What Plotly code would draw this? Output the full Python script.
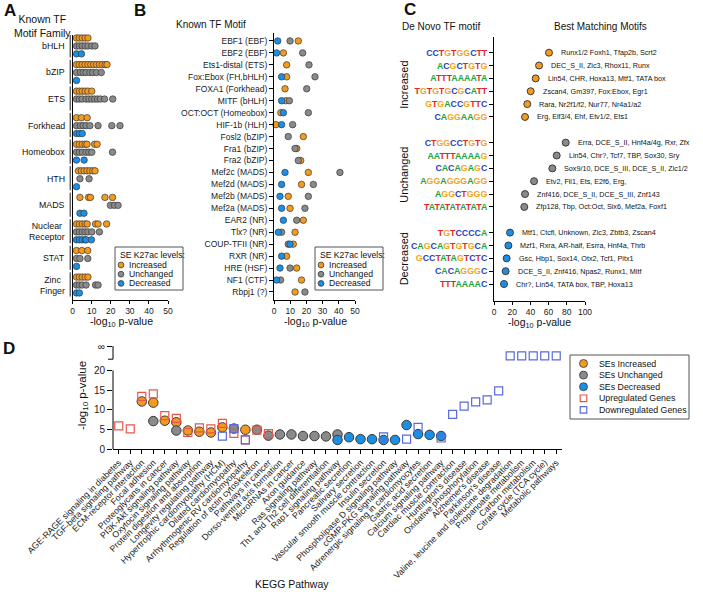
import plotly.graph_objects as go

W, H = 703, 592


def fx(p):
    return p / W


def fy(p):
    return 1 - p / H


ORANGE = "#F39A1F"
GRAY = "#8A8A8A"
BLUE = "#1B8FE6"
UP_RED = "#E8574A"
DOWN_BLUE = "#5A6BD8"
EDGE = "#3A3A3A"
FONT = "Liberation Sans, Arial, Helvetica, sans-serif"
LOGO_FONT = "Liberation Sans, Arial, sans-serif"

# ---------------- Panel A : known TF motif families ----------------
A_families = ["bHLH", "bZIP", "ETS", "Forkhead", "Homeobox", "HTH", "MADS",
              "Nuclear<br>Receptor", "STAT", "Zinc<br>Finger"]
A_increased = [
    [2, 3.5, 5, 6.5, 8],
    [2, 3.5, 5, 6.5, 8, 9.5, 11, 12.5, 14, 15.5, 17, 18],
    [2, 3.5, 5, 6.5, 8, 10],
    [2, 4.6, 7.6],
    [2, 3.5, 5, 6.5, 7.5, 11.5, 12.8],
    [3, 4.5, 6, 7.5, 9, 10.5, 11.7],
    [3.8, 8.3, 9.3, 16.9, 20.9],
    [2, 3.5, 5, 6.5, 7.6, 12, 13.3, 17.8],
    [2, 4.8, 7.9],
    [2, 3.5, 5, 6.5, 8],
]
A_unchanged = [
    [2, 3.5, 5, 6.5, 8, 10, 11.7],
    [2, 4, 5.5, 7, 9, 10.5, 12.5, 15],
    [2, 3.5, 5, 7, 8.5, 10, 11.5, 13, 14.5, 16.7, 21],
    [2, 4, 5.5, 7, 9, 13.3, 20.5, 24.8],
    [2, 3.5, 5, 7, 8.5, 10, 20.9],
    [3.8, 8.6],
    [19.8, 21.9, 23.8],
    [2, 3.5, 5, 6.5, 8, 10, 14],
    [2, 3.8, 7.9],
    [2, 3.5, 5, 7, 12, 13.3],
]
A_decreased = [
    [2, 4.6],
    [2],
    [],
    [2, 3.5, 5],
    [2, 6],
    [2],
    [3.8, 5.9],
    [2, 3.5, 5, 6.5, 7, 9.8],
    [2],
    [2, 3.5],
]

# ---------------- Panel B : known TF motifs ----------------
B_motifs = ["EBF1 (EBF)", "EBF2 (EBF)", "Ets1-distal (ETS)", "Fox:Ebox (FH,bHLH)",
            "FOXA1 (Forkhead)", "MITF (bHLH)", "OCT:OCT (Homeobox)", "HIF-1b (HLH)",
            "Fosl2 (bZIP)", "Fra1 (bZIP)", "Fra2 (bZIP)", "Mef2c (MADS)", "Mef2d (MADS)",
            "Mef2b (MADS)", "Mef2a (MADS)", "EAR2 (NR)", "Tlx? (NR)", "COUP-TFII (NR)",
            "RXR (NR)", "HRE (HSF)", "NF1 (CTF)", "Rbpj1 (?)"]
B_increased = [15, 5.8, 7.8, 7.8, 6.8, 7.4, 4.2, 1.2, 18.1, 14, 16.5, 21.2, 17, 8.8,
               9.9, 18.1, 13, 11.9, 7.8, 14, 17, 13]
B_unchanged = [9.9, 17.7, 21.6, 25.3, 20.2, 9.5, 21.2, 11.5, 8.8, 13, 15, 40.7, 24.3,
               21.2, 19.1, 14, 4.7, 8.8, None, 9.9, 4.1, 19.1]
B_decreased = [2.3, 1.6, None, 4.7, None, 4.7, 5.8, 4.7, None, None, None, 6.8, 4.7,
               3.7, 4.7, 5.8, 2.7, 9.9, 4.7, 3.7, 1.6, None]

# ---------------- Panel C : de novo motifs ----------------
C_groups = ["Increased", "Unchanged", "Decreased"]
C_group_of = [0, 0, 0, 0, 0, 0, 1, 1, 1, 1, 1, 1, 2, 2, 2, 2, 2]
C_motifs = ["CCTGTGGCTT", "ACGCTGTG", "ATTTAAAATA", "TGTGTGCGCATT", "GTGACCGTTC",
            "CAGGAAGG", "CTGGCCTGTG", "AATTTAAAAG", "CACAGAGC", "AGGAGGGAGG",
            "AGGCTGGG", "TATATATATATA", "TGTCCCCA", "CAGCAGTGTGCA", "GCCTATAGTCTC",
            "CACAGGGC", "TTTAAAAC"]
C_values = [60.4, 49.5, 45.8, 40.3, 36.6, 34.1, 78.8, 68.9, 64.1, 44.0, 34.1, 33.3,
            17.6, 15.8, 13.9, 12.8, 11.0]
C_matches = [
    "Runx1/2 Foxh1, Tfap2b, Scrt2",
    "DEC_S_II, Zic3, Rhox11, Runx",
    "Lin54, CHR, Hoxa13, Mtf1, TATA box",
    "Zscan4, Gm397, Fox:Ebox, Egr1",
    "Rara, Nr2f1/f2, Nur77, Nr4a1/a2",
    "Erg, Elf3/4, Ehf, Etv1/2, Ets1",
    "Erra, DCE_S_II, Hnf4a/4g, Rxr, Zfx",
    "Lin54, Chr?, Tcf7, TBP, Sox30, Sry",
    "Sox9/10, DCE_S_III, DCE_S_II, Zic1/2",
    "Etv2, Fli1, Ets, E2f6, Erg,",
    "Znf416, DCE_S_II, DCE_S_III, Znf143",
    "Zfp128, Tbp, Oct:Oct, Six6, Mef2a, Foxf1",
    "Mtf1, Ctcfl, Unknown, Zic3, Zbtb3, Zscan4",
    "Mzf1, Rxra, AR-half, Esrra, Hnf4a, Thrb",
    "Gsc, Hbp1, Sox14, Otx2, Tcf1, Pitx1",
    "DCE_S_II, Znf416, Npas2, Runx1, Mitf",
    "Chr?, Lin54, TATA box, TBP, Hoxa13",
]

# ---------------- Panel D : KEGG pathways ----------------
INF = float("inf")
D_pathways = [
    "AGE-RAGE signaling in diabetes", "TGF-beta signaling pathway",
    "ECM-receptor interaction", "Focal adhesion", "Proteoglycans in cancer",
    "PI3K-Akt signaling pathway", "Oxytocin signaling pathway",
    "Protein digestion and absorption", "Longevity regulating pathway",
    "Hypertrophic cardiomyopathy (HCM)", "Dilated cardiomyopathy",
    "Arrhythmogenic RV cardiomyopathy", "Regulation of actin cytoskeleton",
    "Pathways in cancer", "Dorso-ventral axis formation", "MicroRNAs in cancer",
    "Axon guidance", "Ras signaling pathway", "Th1 and Th2 cell differentiation",
    "Rap1 signaling pathway", "Pancreatic secretion", "Salivary secretion",
    "Vascular smooth muscle contraction", "Insulin secretion",
    "Phospholipase D signaling pathway", "cGMP-PKG signaling pathway",
    "Adrenergic signaling in cardiomyocytes", "Gastric acid secretion",
    "Calcium signaling pathway", "Cardiac muscle contraction", "Huntington's disease",
    "Oxidative phosphorylation", "Alzheimer's disease", "Parkinson's disease",
    "Valine, leucine and isoleucine degradation", "Propanoate metabolism",
    "Carbon metabolism", "Citrate cycle (TCA cycle)", "Metabolic pathways",
]
N = None
D_se_increased = [N, N, 12.1, 11.8, 7.2, 6.8, 4.7, 4.4, 4.2, 5.5, N, 4.9, N, N, N, N, N,
                  N, N, N, N, N, N, N, N, N, N, N, N, N, N, N, N, N, N, N, N, N, N]
D_se_unchanged = [N, N, N, 7.1, N, 4.7, N, N, N, N, 5.2, N, 4.9, 3.4, 3.7, 3.7, 3.3,
                  3.3, 3.2, 3.7, N, N, N, N, N, N, N, N, N, N, N, N, N, N, N, N, N, N, N]
D_se_decreased = [N, N, N, N, N, N, N, N, N, N, N, N, N, N, N, N, N, N, N, 2.3, 3.0,
                  2.5, 2.5, 2.3, 2.3, 6.1, 3.8, 3.6, 3.3, N, N, N, N, N, N, N, N, N, N]
D_up_genes = [5.9, 5.1, 13.4, 14.0, 8.5, 7.8, 4.2, 5.4, 5.1, 6.5, 4.0, 2.3, 4.8, 3.9,
              N, N, N, N, N, N, N, N, N, N, N, N, N, N, N, N, N, N, N, N, N, N, N, N, N]
D_down_genes = [N, N, N, N, N, N, N, N, N, 3.3, 5.2, 2.3, N, N, N, N, N, N, N, N, N, N,
                N, 3.1, N, 2.5, 5.5, N, 2.8, 8.8, 10.9, 12.0, 12.5, 14.8, INF, INF, INF,
                INF, INF]
D_yticks = [0, 5, 10, 15, 20]
INF_POS = 23.7        # where "infinite" values are drawn on the broken axis
INF_TICK = 26.0
BREAK_LOW, BREAK_HIGH = 22.85, 26.2

LOGO_COLORS = {"A": "#22A33A", "C": "#2A3FC1", "G": "#F2A31B", "T": "#E0262B"}


def logo(seq):
    return "".join('<span style="color:%s">%s</span>' % (LOGO_COLORS[c], c) for c in seq)


fig = go.Figure()


def dots(x, y, xa, ya, color, size=6.5, lw=0.7, symbol="circle"):
    fig.add_trace(go.Scatter(
        x=x, y=y, mode="markers", xaxis=xa, yaxis=ya, cliponaxis=False,
        showlegend=False, hoverinfo="skip",
        marker=dict(size=size, color=color, symbol=symbol,
                    line=dict(color=EDGE, width=lw))))


# ---- A
GROUP_STEP = 3.35
for row, (vals, color) in enumerate([(A_increased, ORANGE), (A_unchanged, GRAY),
                                      (A_decreased, BLUE)]):
    xs, ys = [], []
    for g, lst in enumerate(vals):
        for v in lst:
            xs.append(v)
            ys.append(g * GROUP_STEP + row)
    dots(xs, ys, "x", "y", color)

# ---- B
for vals, color in [(B_increased, ORANGE), (B_unchanged, GRAY), (B_decreased, BLUE)]:
    xs = [v for v in vals if v is not None]
    ys = [i for i, v in enumerate(vals) if v is not None]
    dots(xs, ys, "x2", "y2", color)

# ---- C
C_offsets = [0, 7, 14]
C_pos = []
counts = [0, 0, 0]
for g in C_group_of:
    C_pos.append(C_offsets[g] + counts[g])
    counts[g] += 1
for g, color in enumerate([ORANGE, GRAY, BLUE]):
    xs = [v for v, gg in zip(C_values, C_group_of) if gg == g]
    ys = [p for p, gg in zip(C_pos, C_group_of) if gg == g]
    dots(xs, ys, "x3", "y3", color, size=7, lw=1.0)


# ---- D
def dval(v):
    return INF_POS if v == INF else v


for vals, color in [(D_se_increased, ORANGE), (D_se_unchanged, GRAY), (D_se_decreased, BLUE)]:
    xs = [i for i, v in enumerate(vals) if v is not None]
    ys = [v for v in vals if v is not None]
    dots(xs, ys, "x4", "y4", color, size=9.5, lw=1.0)
for vals, color in [(D_up_genes, UP_RED), (D_down_genes, DOWN_BLUE)]:
    xs = [i for i, v in enumerate(vals) if v is not None]
    ys = [dval(v) for v in vals if v is not None]
    fig.add_trace(go.Scatter(
        x=xs, y=ys, mode="markers", xaxis="x4", yaxis="y4", cliponaxis=False,
        showlegend=False, hoverinfo="skip",
        marker=dict(size=8, symbol="square-open", color=color, line=dict(color=color, width=1.2))))

axis_common = dict(showgrid=False, zeroline=False, showline=True, linecolor="black",
                   linewidth=1, ticks="outside", ticklen=3, tickwidth=1, tickcolor="black",
                   automargin=False, tickfont=dict(size=8.5, color="#222", family=FONT))

layout = dict(
    width=W, height=H, margin=dict(l=0, r=0, t=0, b=0), template="none",
    paper_bgcolor="white", plot_bgcolor="white", showlegend=False,
    font=dict(family=FONT, color="#222"),
    xaxis=dict(axis_common, domain=[fx(72.7), fx(168)], range=[0, 50], anchor="y",
               tickvals=[0, 10, 20, 30, 40, 50]),
    yaxis=dict(axis_common, domain=[fy(300), fy(35)], range=[(300 - 38) / 7.93, (35 - 38) / 7.93],
               anchor="x", showticklabels=False, ticks=""),
    xaxis2=dict(axis_common, domain=[fx(274), fx(355)], range=[0, 50], anchor="y2",
                tickvals=[0, 10, 20, 30, 40, 50]),
    yaxis2=dict(axis_common, domain=[fy(300), fy(33.3)], range=[21.67, -0.64], anchor="x2",
                tickvals=list(range(len(B_motifs))), ticktext=B_motifs, ticklen=4),
    xaxis3=dict(axis_common, domain=[fx(494), fx(585)], range=[0, 100], anchor="y3",
                tickvals=[0, 20, 40, 60, 80, 100]),
    yaxis3=dict(axis_common, domain=[fy(301), fy(37)], range=[19.32, -1.22], anchor="x3",
                tickvals=C_pos, ticktext=[logo(s) for s in C_motifs], ticklen=4,
                tickfont=dict(size=8.8, family=LOGO_FONT, weight="bold")),
    xaxis4=dict(axis_common, domain=[fx(113), fx(562)], range=[-0.5, len(D_pathways) - 0.5],
                anchor="y4", tickvals=list(range(len(D_pathways))), ticktext=D_pathways,
                tickangle=-45, ticklen=4, tickfont=dict(size=8.8, color="#222", family=FONT)),
    yaxis4=dict(axis_common, domain=[fy(449), fy(345)], range=[0, 26.46], anchor="x4",
                showline=False, ticklen=5,
                tickvals=D_yticks + [INF_TICK],
                ticktext=[str(t) for t in D_yticks] + ["∞"],
                tickfont=dict(size=10, color="#222", family=FONT)),
)
fig.update_layout(**layout)

shapes = []
ann = []


def text(x, y, s, size=10, xanchor="center", yanchor="middle", xref="paper", yref="paper",
         angle=0, bold=False, family=FONT, xshift=0):
    ann.append(dict(x=x, y=y, xref=xref, yref=yref, text=s, showarrow=False,
                    xanchor=xanchor, yanchor=yanchor, textangle=angle, xshift=xshift,
                    font=dict(size=size, family=family, color="#111",
                              weight="bold" if bold else "normal")))


# panel letters
text(fx(2), fy(10.5), "A", 17, xanchor="left", bold=True)
text(fx(132), fy(10.5), "B", 17, xanchor="left", bold=True)
text(fx(402), fy(10), "C", 17, xanchor="left", bold=True)
text(fx(1), fy(349), "D", 17, xanchor="left", bold=True)

# titles
text(fx(42), fy(25.5), "Known TF<br>Motif Family", 10.5)
text(fx(211), fy(25), "Known TF Motif", 10)
text(fx(441), fy(26), "De Novo TF motif", 10)
text(fx(600), fy(26), "Best Matching Motifs", 10)

# axis titles
xt = "-log<sub>10</sub> p-value"
text(fx(121), fy(322), xt, 10.5)
text(fx(315), fy(322), xt, 10.5)
text(fx(539), fy(323), xt, 10.5)
text(fx(83), fy(396), xt, 11.5, angle=-90)
text(fx(292), fy(584), "KEGG Pathway", 10.5)

# panel A family labels and brackets
for g, name in enumerate(A_families):
    text(fx(66.5), g * GROUP_STEP + 1, name, 8.8, xanchor="right", yref="y")
    shapes.append(dict(type="line", xref="paper", yref="y", x0=fx(70.2), x1=fx(70.2),
                       y0=g * GROUP_STEP - 0.6, y1=g * GROUP_STEP + 2.45,
                       line=dict(color="#222", width=1)))

# panel C group labels and matching motifs
for g, name in enumerate(C_groups):
    gp = [p for p, gg in zip(C_pos, C_group_of) if gg == g]
    text(fx(404), (min(gp) + max(gp)) / 2, name, 11, angle=-90, yref="y3")
for v, p, m in zip(C_values, C_pos, C_matches):
    ann.append(dict(x=v, y=p, xref="x3", yref="y3", text=m, showarrow=False,
                    xanchor="left", yanchor="middle", xshift=10,
                    font=dict(size=7.2, family=FONT, color="#111")))

# panel D broken y axis (two segments, with a tick closing the upper one)
for y0, y1 in [(0, 20), (BREAK_LOW, BREAK_HIGH)]:
    shapes.append(dict(type="line", xref="x4 domain", yref="y4", x0=0, x1=0, y0=y0, y1=y1,
                       line=dict(color="black", width=1)))
shapes.append(dict(type="line", xref="x4 domain", yref="y4", x0=-5 / 449, x1=0,
                   y0=BREAK_LOW, y1=BREAK_LOW, line=dict(color="black", width=1)))


# legends
def legend_box(x0, y0, x1, y1):
    shapes.append(dict(type="rect", xref="paper", yref="paper", x0=fx(x0), x1=fx(x1),
                       y0=fy(y1), y1=fy(y0), line=dict(color="#555", width=1),
                       fillcolor="white", layer="above"))


def legend_marker(cx, cy, kind, color, r):
    if kind == "circle":
        shapes.append(dict(type="circle", xref="paper", yref="paper", xsizemode="pixel",
                           ysizemode="pixel", xanchor=fx(cx), yanchor=fy(cy),
                           x0=-r, x1=r, y0=-r, y1=r, fillcolor=color,
                           line=dict(color=EDGE, width=0.8), layer="above"))
    else:
        shapes.append(dict(type="rect", xref="paper", yref="paper", xsizemode="pixel",
                           ysizemode="pixel", xanchor=fx(cx), yanchor=fy(cy),
                           x0=-r, x1=r, y0=-r, y1=r, fillcolor="rgba(0,0,0,0)",
                           line=dict(color=color, width=1.2), layer="above"))


levels_legend = [("Increased", ORANGE), ("Unchanged", GRAY), ("Decreased", BLUE)]
for dx in [0, 200]:
    legend_box(115 + dx, 247, 183 + dx, 290)
    text(fx(118 + dx), fy(255), "SE K27ac levels:", 8.6, xanchor="left")
    for k, (lab, col) in enumerate(levels_legend):
        yy = 265 + 9.2 * k
        legend_marker(121 + dx, yy, "circle", col, 2.9)
        text(fx(127 + dx), fy(yy), lab, 8.6, xanchor="left")

legend_box(570, 355, 689, 419)
d_leg = [("SEs Increased", "circle", ORANGE), ("SEs Unchanged", "circle", GRAY),
         ("SEs Decreased", "circle", BLUE), ("Upregulated Genes", "square", UP_RED),
         ("Downregulated Genes", "square", DOWN_BLUE)]
for k, (lab, kind, col) in enumerate(d_leg):
    yy = 363.5 + 11.6 * k
    legend_marker(583.5, yy, kind, col, 4 if kind == "circle" else 3.3)
    text(fx(596.5), fy(yy), lab, 8.8, xanchor="left")

fig.update_layout(shapes=shapes, annotations=ann)
fig.write_html("out.html", config={"displayModeBar": False},
               post_script="document.body.style.margin='0';document.body.style.overflow='hidden';")
